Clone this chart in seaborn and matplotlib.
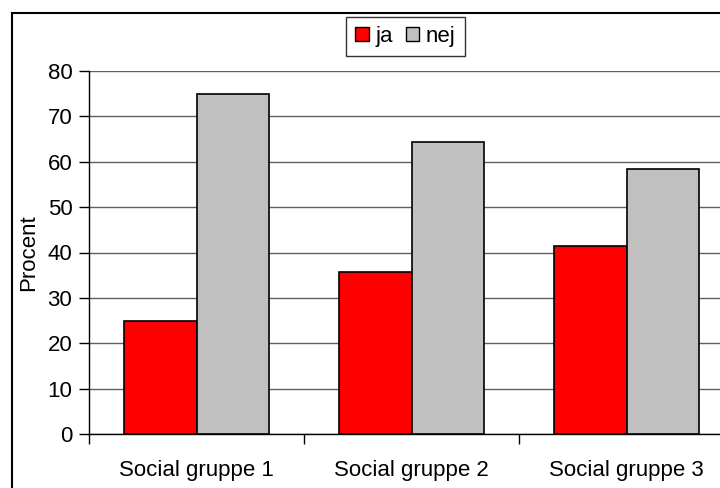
import pandas as pd
import matplotlib
matplotlib.use("Agg")
import matplotlib.pyplot as plt
import seaborn as sns
from matplotlib.patches import Patch, Rectangle

# values
groups = ["Social gruppe 1", "Social gruppe 2", "Social gruppe 3"]
answers = ["ja", "nej"]
ja_pct = [25.0, 35.7, 41.5]
nej_pct = [75.0, 64.3, 58.5]
bar_colors = ["#FF0000", "#C0C0C0"]
y_ticks = [0, 10, 20, 30, 40, 50, 60, 70, 80]

df = pd.DataFrame({
    "gruppe": groups * 2,
    "svar": ["ja"] * 3 + ["nej"] * 3,
    "procent": ja_pct + nej_pct,
})

sns.set_theme(style="white")
plt.rcParams["font.family"] = ["Liberation Sans", "DejaVu Sans"]
plt.rcParams.update({
    "font.size": 16,
    "text.color": "black",
    "axes.labelcolor": "black",
    "xtick.color": "black",
    "ytick.color": "black",
})

fig = plt.figure(figsize=(7.2, 4.88), dpi=100)
ax = fig.add_axes([89 / 720, 54 / 488, 645 / 720, 363 / 488])

sns.barplot(data=df, x="gruppe", y="procent", hue="svar", hue_order=answers,
            palette=bar_colors, width=0.67, gap=0, edgecolor="black",
            linewidth=1.2, saturation=1, ax=ax, legend=False, zorder=3)

ax.set_xlim(-0.5, 2.5)
ax.set_ylim(0, 80)
ax.set_yticks(y_ticks)
ax.yaxis.grid(True, color="#606060", linewidth=1, zorder=0)
ax.set_axisbelow(True)

for side in ["top", "right"]:
    ax.spines[side].set_visible(False)
for side in ["left", "bottom"]:
    ax.spines[side].set_color("black")
    ax.spines[side].set_linewidth(1)

ax.set_xlabel("")
ax.set_ylabel("Procent", fontsize=16, labelpad=6)
ax.tick_params(axis="y", direction="out", length=7, width=1, color="black",
               labelsize=16, pad=5, left=True)
ax.tick_params(axis="x", which="major", length=0, labelsize=16, pad=19)
ax.set_xticks([-0.5, 0.5, 1.5, 2.5], minor=True)
ax.tick_params(axis="x", which="minor", direction="out", length=7, width=1,
               color="black", bottom=True)

handles = [Patch(facecolor=c, edgecolor="black", linewidth=1) for c in bar_colors]
leg = fig.legend(handles, answers, loc="center", bbox_to_anchor=(405.5 / 720, 1 - 36.5 / 488),
                 ncol=2, frameon=True, fancybox=False, fontsize=16,
                 handlelength=0.6, handleheight=0.6, handletextpad=0.3,
                 columnspacing=0.6, borderpad=0.4)
leg.get_frame().set_edgecolor("black")
leg.get_frame().set_linewidth(1)

# outer chart border (cut off on the right and bottom in the reference)
fig.patches.append(Rectangle((12 / 720, -0.1), 1.2, 1.1 - 13 / 488,
                             transform=fig.transFigure, fill=False,
                             edgecolor="black", linewidth=1.5))

fig.savefig("out.png", dpi=100)
